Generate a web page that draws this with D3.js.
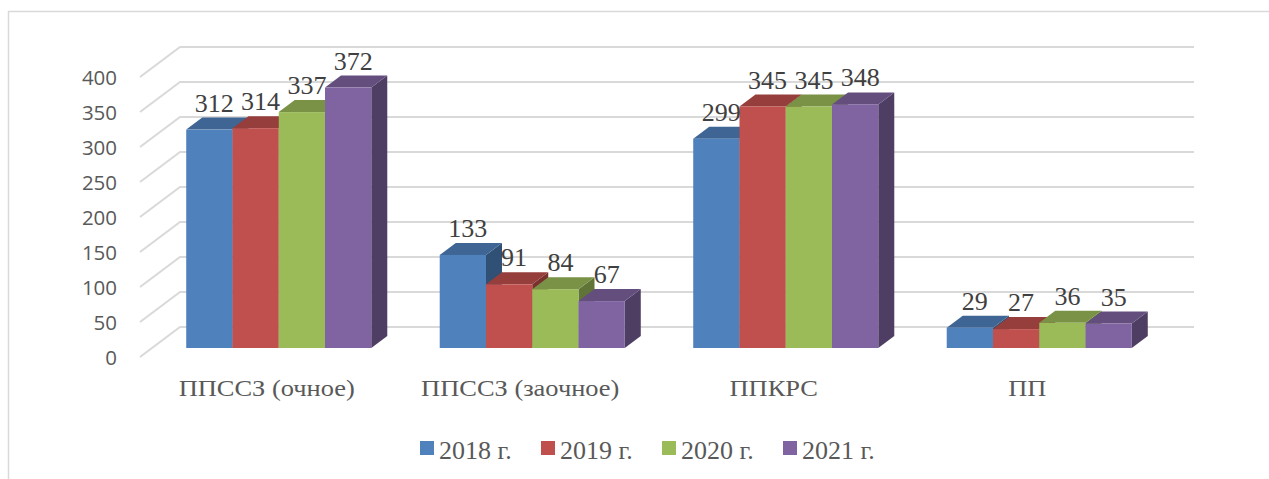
<!DOCTYPE html>
<html><head><meta charset="utf-8">
<script src="https://cdn.jsdelivr.net/npm/d3@7"></script>
<style>body{margin:0;background:#fff}svg{display:block}</style>
</head><body><svg id="c" width="1269" height="479"></svg>
<script>
const categories = ["ППССЗ (очное)", "ППССЗ (заочное)", "ППКРС", "ПП"];
const seriesNames = ["2018 г.", "2019 г.", "2020 г.", "2021 г."];
const v2018 = [312, 133, 299, 29];
const v2019 = [314, 91, 345, 27];
const v2020 = [337, 84, 345, 36];
const v2021 = [372, 67, 348, 35];
const yTicks = [0, 50, 100, 150, 200, 250, 300, 350, 400];
const colors = ["#4F81BD", "#C0504D", "#9BBB59", "#8064A2"];
const seriesValues = [v2018, v2019, v2020, v2021];

const SERIF = '"Liberation Serif"';
const SANS = '"Open Sans"';

const svg = d3.select("#c");
svg.append("rect").attr("x", 8.5).attr("y", 11.5).attr("width", 1400).attr("height", 600)
  .attr("fill", "none").attr("stroke", "#D9D9D9").attr("stroke-width", 1.5);

const depth = {dx: 40, dy: -30};
const barF = 0.3, barB = 0.7;
const y = d3.scaleLinear().domain([0, 400]).range([357, 77]);
const x0 = d3.scaleBand().domain(categories).range([140, 1154]).paddingInner(0.27).paddingOuter(0.135);
const x1 = d3.scaleBand().domain(seriesNames).range([0, x0.bandwidth()]);

const grid = svg.append("g").attr("stroke", "#D9D9D9").attr("stroke-width", 2).attr("fill", "none");
yTicks.forEach(t => {
  const yf = y(t);
  grid.append("path").attr("d", `M140,${yf}L${140 + depth.dx},${yf + depth.dy}L${1154 + depth.dx},${yf + depth.dy}`);
});

svg.append("g").selectAll("text").data(yTicks).join("text")
  .attr("transform", d => `translate(117,${y(d) + 8}) scale(1.05,1)`)
  .attr("text-anchor", "end")
  .style("font-family", SANS).attr("font-size", 19.5).attr("fill", "#595959")
  .text(d => d);

const fdx = depth.dx * barF, fdy = depth.dy * barF;
const bdx = depth.dx * (barB - barF), bdy = depth.dy * (barB - barF);
const bars = [];
categories.forEach((c, ci) => {
  seriesNames.forEach((s, si) => {
    bars.push({c, s, si, v: seriesValues[si][ci]});
  });
});
const gb = svg.append("g");
bars.forEach(b => {
  const L = x0(b.c) + x1(b.s) + fdx, W = x1.bandwidth();
  const B = y(0) + fdy, T = y(b.v) + fdy;
  const col = d3.color(colors[b.si]);
  const top = d3.rgb(col.r * 0.78, col.g * 0.78, col.b * 0.78);
  const side = d3.rgb(col.r * 0.62, col.g * 0.62, col.b * 0.62);
  gb.append("path").attr("fill", side)
    .attr("d", `M${L + W},${T}L${L + W + bdx},${T + bdy}L${L + W + bdx},${B + bdy}L${L + W},${B}Z`);
  gb.append("path").attr("fill", top)
    .attr("d", `M${L},${T}L${L + bdx},${T + bdy}L${L + W + bdx},${T + bdy}L${L + W},${T}Z`);
  gb.append("rect").attr("x", L).attr("y", T).attr("width", W).attr("height", B - T).attr("fill", colors[b.si]);
});
svg.append("g").selectAll("text").data(bars).join("text")
  .attr("x", d => x0(d.c) + x1(d.s) + fdx + x1.bandwidth() / 2 + 5)
  .attr("y", d => y(d.v) + fdy - 18)
  .attr("text-anchor", "middle")
  .style("font-family", SERIF).attr("font-size", 26).attr("fill", "#404040")
  .text(d => d.v);

svg.append("g").selectAll("text").data(categories).join("text")
  .attr("transform", d => `translate(${x0(d) + x0.bandwidth() / 2},396) scale(1.15,1)`)
  .attr("text-anchor", "middle")
  .style("font-family", SERIF).attr("font-size", 23).attr("fill", "#595959")
  .text(d => d);

const legendX = d3.scaleLinear().domain([0, 1]).range([420, 541]);
const lg = svg.append("g").selectAll("g").data(seriesNames).join("g")
  .attr("transform", (d, i) => `translate(${legendX(i)},441)`);
lg.append("rect").attr("width", 14).attr("height", 14).attr("fill", (d, i) => colors[i]);
lg.append("text").attr("x", 19).attr("y", 18)
  .style("font-family", SERIF).attr("font-size", 26).attr("fill", "#595959")
  .text(d => d);
</script></body></html>
